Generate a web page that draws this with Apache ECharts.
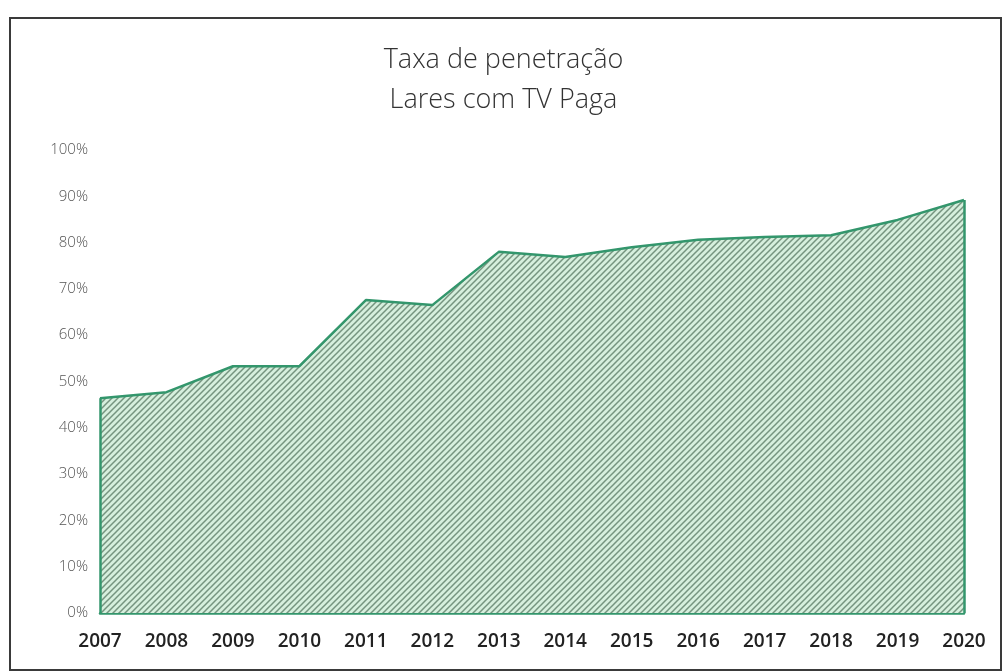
<!DOCTYPE html>
<html>
<head>
<meta charset="utf-8">
<script src="https://cdn.jsdelivr.net/npm/echarts@6/dist/echarts.min.js"></script>
<style>
html,body{margin:0;padding:0;background:#fff;}
#chart{width:1007px;height:672px;}
</style>
</head>
<body>
<div id="chart"></div>
<script>
const titleLines = ['Taxa de penetração', 'Lares com TV Paga'];
const years = ['2007','2008','2009','2010','2011','2012','2013','2014','2015','2016','2017','2018','2019','2020'];
const penetration = [46.4, 47.7, 53.3, 53.3, 67.6, 66.5, 78.0, 76.9, 79.0, 80.6, 81.2, 81.6, 84.9, 89.2];
const yTicks = [0, 10, 20, 30, 40, 50, 60, 70, 80, 90, 100];

// hatch pattern
const tile = document.createElement('canvas');
tile.width = 6; tile.height = 6;
const c = tile.getContext('2d');
c.fillStyle = '#d6efdd';
c.fillRect(0, 0, 6, 6);
c.strokeStyle = '#75947f';
c.lineWidth = 1.5;
c.beginPath();
c.moveTo(-1, 7); c.lineTo(7, -1);
c.moveTo(-4, 4); c.lineTo(4, -4);
c.moveTo(2, 10); c.lineTo(10, 2);
c.stroke();

const lineColor = '#33966c';
const first = years[0], last = years[years.length - 1];

const chart = echarts.init(document.getElementById('chart'), null, {renderer: 'canvas'});
chart.setOption({
  backgroundColor: '#fff',
  animation: false,
  title: {
    text: titleLines.join('\n'),
    left: 'center',
    top: 35,
    textStyle: {
      fontFamily: 'Open Sans',
      fontSize: 27,
      fontWeight: 300,
      color: '#333',
      lineHeight: 40
    }
  },
  graphic: [{
    type: 'rect',
    shape: {x: 10, y: 18, width: 991, height: 652},
    style: {fill: 'none', stroke: '#3a3a3a', lineWidth: 2},
    silent: true,
    z: 100
  }],
  grid: {left: 100, right: 43, top: 150, bottom: 59},
  xAxis: {
    type: 'category',
    data: years,
    boundaryGap: false,
    axisLine: {show: true, lineStyle: {color: lineColor, width: 2.5}},
    axisTick: {show: false},
    axisLabel: {
      fontFamily: 'Open Sans',
      fontSize: 19,
      color: '#222',
      margin: 19,
      fontWeight: 600
    },
    splitLine: {show: false}
  },
  yAxis: {
    type: 'value',
    min: 0,
    max: 100,
    interval: 10,
    axisLine: {show: false},
    axisTick: {show: false},
    splitLine: {show: false},
    axisLabel: {
      fontFamily: 'Open Sans',
      fontSize: 15,
      fontWeight: 300,
      color: '#555',
      margin: 12,
      formatter: v => yTicks.includes(v) ? v + '%' : ''
    }
  },
  series: [{
    type: 'line',
    data: penetration,
    symbol: 'none',
    lineStyle: {color: lineColor, width: 2.5},
    areaStyle: {
      color: {image: tile, repeat: 'repeat'},
      opacity: 1
    },
    markLine: {
      silent: true,
      symbol: 'none',
      label: {show: false},
      lineStyle: {color: lineColor, width: 2.5, type: 'solid'},
      data: [
        [{coord: [first, 0]}, {coord: [first, penetration[0]]}],
        [{coord: [last, 0]}, {coord: [last, penetration[penetration.length - 1]]}]
      ]
    }
  }]
});
</script>
</body>
</html>
